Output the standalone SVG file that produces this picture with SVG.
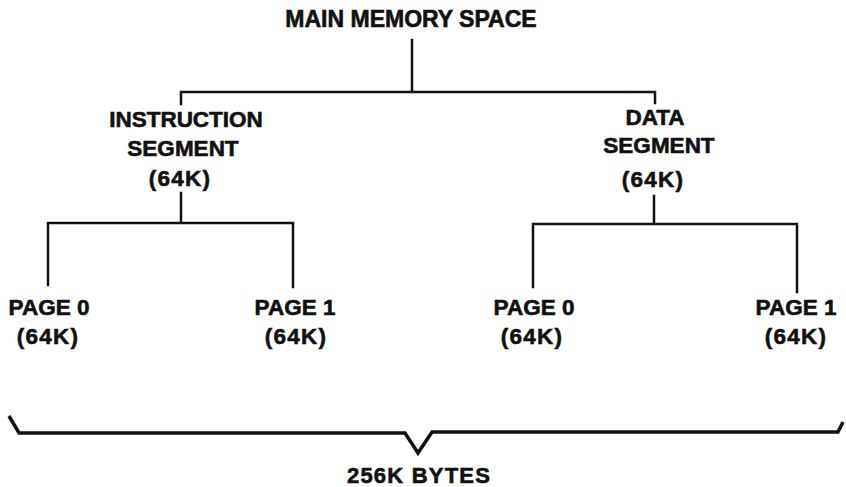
<svg xmlns="http://www.w3.org/2000/svg" width="846" height="487" viewBox="0 0 846 487">
<style>
  text { font-family: "Liberation Sans", Arial, sans-serif; font-weight: bold; font-size: 22.5px; fill: #111; stroke: #111; stroke-width: 0.6; text-anchor: middle; }
  .title { font-size: 23px; }
  .k { letter-spacing: 1.2px; }
  .ln { stroke: #111; stroke-width: 2.5; fill: none; stroke-linecap: square; }
  .brace { stroke: #111; stroke-width: 3.5; fill: none; stroke-linejoin: miter; }
</style>
<rect width="846" height="487" fill="#fff"/>
<g id="connectors">
  <path class="ln" d="M412,40 V92 M181,104 V92 H655 V103"/>
  <path class="ln" d="M181,193 V223 M48,285 V223 H293 V287"/>
  <path class="ln" d="M654,196 V224 M533,287 V224 H797 V292"/>
</g>
<g id="main">
  <text class="title" x="411" y="27">MAIN MEMORY SPACE</text>
</g>
<g id="instruction-segment">
  <text x="186" y="127">INSTRUCTION</text>
  <text x="183" y="156">SEGMENT</text>
  <text class="k" x="180" y="186">(64K)</text>
</g>
<g id="data-segment">
  <text x="655" y="125">DATA</text>
  <text x="659" y="153">SEGMENT</text>
  <text class="k" x="653" y="187">(64K)</text>
</g>
<g id="i-page0">
  <text x="49" y="315">PAGE 0</text>
  <text class="k" x="48" y="344">(64K)</text>
</g>
<g id="i-page1">
  <text x="295" y="315">PAGE 1</text>
  <text class="k" x="296" y="344">(64K)</text>
</g>
<g id="d-page0">
  <text x="534" y="315">PAGE 0</text>
  <text class="k" x="532" y="344">(64K)</text>
</g>
<g id="d-page1">
  <text x="796" y="315">PAGE 1</text>
  <text class="k" x="796" y="344">(64K)</text>
</g>
<g id="total">
  <path class="brace" d="M9,416 L19,433 L405,433 L418,453 L432,432 L838,432 L843,422"/>
  <text class="k" x="419" y="483" style="font-size:22px">256K BYTES</text>
</g>
</svg>
